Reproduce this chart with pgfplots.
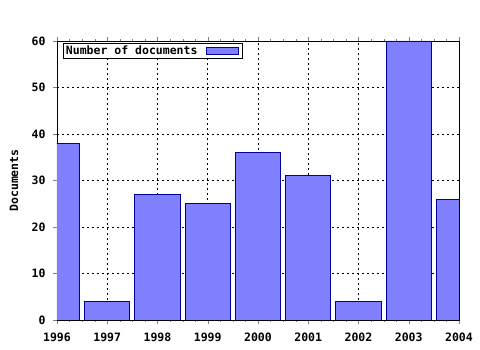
\documentclass[border=0pt]{standalone}
\usepackage{pgfplots}
\pgfplotsset{compat=1.18}
\usepackage{fontspec}
\setmainfont{DejaVu Sans Mono}
\definecolor{barfill}{HTML}{8080FF}
\definecolor{baredge}{HTML}{000099}
\begin{document}
\begin{tikzpicture}[x=1pt,y=1pt]
\useasboundingbox (0,0) rectangle (480,350);
\begin{axis}[
  at={(57pt,30pt)}, anchor=south west,
  scale only axis, width=402pt, height=279pt,
  font=\bfseries\fontsize{11.5}{12}\selectfont,
  /pgf/number format/assume math mode=true,
  xmin=0, xmax=8, ymin=0, ymax=60,
  xtick={0,...,8},
  xticklabels={1996,1997,1998,1999,2000,2001,2002,2003,2004},
  ytick={0,10,...,60},
  minor x tick num=3,
  tick align=outside,
  xtick pos=both, ytick pos=left,
  major tick length=4pt, minor tick length=2pt,
  grid=major,
  major grid style={black, dash pattern=on 2pt off 3pt, line width=0.7pt},
  axis line style={black, line width=0.8pt},
  ylabel={Documents},
  ylabel style={at={(axis description cs:-0.107,0.5)}, rotate=0, anchor=center},
  xticklabel style={yshift=-6pt, text height=8pt, text depth=0pt},
  yticklabel style={xshift=-4pt},
  legend style={at={(axis description cs:0.015,0.992)}, anchor=north west, draw=black, line width=0.8pt, inner sep=0.5pt, row sep=0pt, column sep=7pt, font=\bfseries\fontsize{11.5}{11}\selectfont},
  legend plot pos=right,
  legend image code/.code={\path[draw=none,fill=none] (0pt,0pt) -- (35pt,0pt); \draw[fill=barfill, draw=baredge, line width=0.8pt] (0pt,-3.5pt) rectangle (32pt,3.5pt);},
  legend cell align=left,
  clip=true,
]
\addplot[ybar, bar width=45.2pt, fill=barfill, draw=baredge, line width=0.8pt] coordinates {
  (0,38) (1,4) (2,27) (3,25) (4,36) (5,31) (6,4) (7,60) (8,26)
};
\addlegendentry{Number of documents}
\end{axis}
\end{tikzpicture}
\end{document}
